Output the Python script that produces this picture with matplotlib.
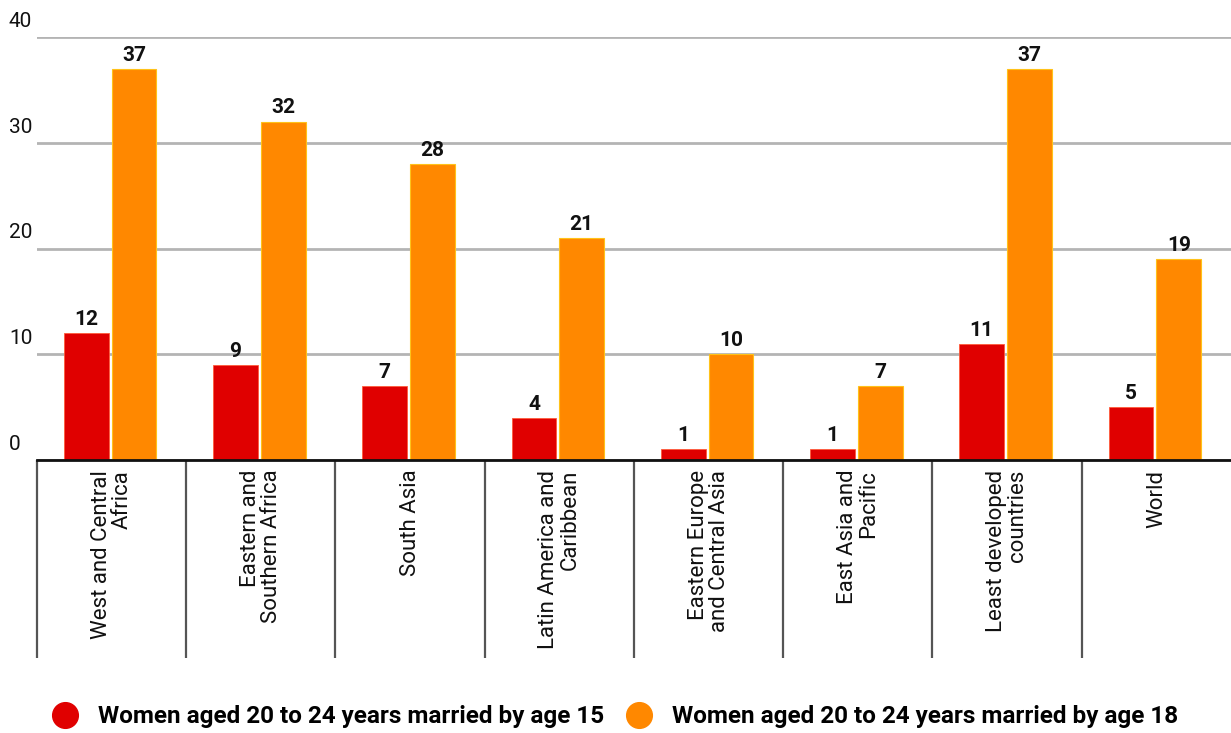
import matplotlib
matplotlib.use("Agg")
import matplotlib.pyplot as plt
from matplotlib.lines import Line2D
import matplotlib.transforms as mtransforms

plt.rcParams['font.family'] = ['Roboto', 'DejaVu Sans']

categories = [
    "West and Central\nAfrica",
    "Eastern and\nSouthern Africa",
    "South Asia",
    "Latin America and\nCaribbean",
    "Eastern Europe\nand Central Asia",
    "East Asia and\nPacific",
    "Least developed\ncountries",
    "World",
]
married_by_15 = [12, 9, 7, 4, 1, 1, 11, 5]
married_by_18 = [37, 32, 28, 21, 10, 7, 37, 19]
series_names = [
    "Women aged 20 to 24 years married by age 15",
    "Women aged 20 to 24 years married by age 18",
]
y_ticks = [0, 10, 20, 30, 40]

RED = "#e00000"
ORANGE = "#ff8800"

fig = plt.figure(figsize=(12.31, 7.33), dpi=100)
ax = fig.add_axes([0.030, 0.3724, 0.970, 0.5771])

x = list(range(len(categories)))
bw = 0.30
ax.bar([i - 0.17 for i in x], married_by_15, width=bw, color=RED,
       edgecolor="#ff5a3a", linewidth=0.6, zorder=3)
ax.bar([i + 0.15 for i in x], married_by_18, width=bw, color=ORANGE,
       edgecolor="#ffc21a", linewidth=0.8, zorder=3)

# value labels above bars
for i in x:
    ax.annotate(str(married_by_15[i]), (i - 0.17, married_by_15[i]),
                xytext=(0, 3), textcoords="offset points", ha="center",
                va="bottom", fontsize=15, fontweight="bold", color="#111111")
    ax.annotate(str(married_by_18[i]), (i + 0.15, married_by_18[i]),
                xytext=(0, 3), textcoords="offset points", ha="center",
                va="bottom", fontsize=15, fontweight="bold", color="#111111")

ax.set_xlim(-0.5, len(categories) - 0.5)
ax.set_ylim(0, 40)

# horizontal gridlines
ax.set_yticks(y_ticks)
ax.yaxis.grid(True, color="#b4b4b4", linewidth=2, zorder=0)
ax.tick_params(axis="y", length=0, labelleft=False)
ytrans = mtransforms.blended_transform_factory(ax.transAxes, ax.transData)
for t in y_ticks:
    ax.annotate(str(t), (-0.0235, t), xycoords=ytrans, xytext=(0, 4.5),
                textcoords="offset points", ha="left", va="bottom",
                fontsize=15, color="#111111")

# category separators as long major ticks, labels on minor ticks
ax.set_xticks([i - 0.5 for i in x])
ax.set_xticklabels([])
ax.tick_params(axis="x", which="major", length=142.5, width=1.6,
               color="#555555", direction="out")
ax.set_xticks(x, minor=True)
ax.set_xticklabels(categories, minor=True, rotation=90, fontsize=16,
                   ha="center", va="top", multialignment="right",
                   linespacing=1.0)
ax.tick_params(axis="x", which="minor", length=0, pad=7, colors="#111111")

for s in ("top", "right", "left"):
    ax.spines[s].set_visible(False)
ax.spines["bottom"].set_color("#111111")
ax.spines["bottom"].set_linewidth(2)
ax.spines["bottom"].set_zorder(4)

handles = [
    Line2D([], [], marker="o", linestyle="none", markersize=18.5,
           markerfacecolor=RED, markeredgecolor=RED),
    Line2D([], [], marker="o", linestyle="none", markersize=18.5,
           markerfacecolor=ORANGE, markeredgecolor=ORANGE),
]
fig.legend(handles, series_names, loc="center", bbox_to_anchor=(0.495, 0.022),
           ncol=2, frameon=False, handletextpad=0.35, columnspacing=0.45,
           prop={"weight": "bold", "size": 17.5})

fig.savefig("out.png", dpi=100)
